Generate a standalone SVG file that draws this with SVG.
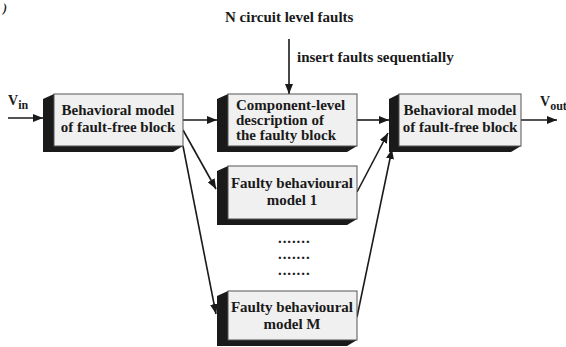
<svg xmlns="http://www.w3.org/2000/svg" width="566" height="347" viewBox="0 0 566 347">
<defs>
<style>
.t{font-family:"Liberation Serif","Times New Roman",serif;font-weight:bold;font-size:15px;fill:#1a1a1a}
.c{text-anchor:middle}
.face{fill:#f0f0f0;stroke:#555;stroke-width:1}
.side{fill:#1a1a1a}
.ln{stroke:#1a1a1a;stroke-width:1.6;fill:none}
</style>
<marker id="ah" viewBox="0 0 10 8" refX="10" refY="4" markerWidth="10" markerHeight="8" markerUnits="userSpaceOnUse" orient="auto">
<path d="M0,0 L10,4 L0,8 Z" fill="#1a1a1a"/>
</marker>
</defs>
<rect width="566" height="347" fill="#fff"/>
<text class="t" x="3" y="12" style="font-size:12px;font-style:italic">)</text>

<g id="connectors">
<line class="ln" x1="8" y1="118" x2="43" y2="118" marker-end="url(#ah)"/>
<line class="ln" x1="183" y1="120" x2="217" y2="120" marker-end="url(#ah)"/>
<line class="ln" x1="357" y1="120" x2="389" y2="120" marker-end="url(#ah)"/>
<line class="ln" x1="521" y1="120" x2="557" y2="120" marker-end="url(#ah)"/>
<line class="ln" x1="289" y1="39" x2="289" y2="94" marker-end="url(#ah)"/>
<line class="ln" x1="183" y1="130" x2="216" y2="189" marker-end="url(#ah)"/>
<line class="ln" x1="183" y1="146" x2="216" y2="314" marker-end="url(#ah)"/>
<line class="ln" x1="357" y1="192" x2="388" y2="133" marker-end="url(#ah)"/>
<line class="ln" x1="357" y1="317" x2="392" y2="149" marker-end="url(#ah)"/>
</g>

<g id="labels">
<text class="t" x="225" y="22">N circuit level faults</text>
<text class="t" x="297" y="62">insert faults sequentially</text>
<text class="t" x="8" y="105" style="font-size:14px">V<tspan dy="4" style="font-size:12px">in</tspan></text>
<text class="t" x="540" y="106" style="font-size:14px">V<tspan dy="4" style="font-size:12px">out</tspan></text>
<text class="t" x="278" y="243" style="letter-spacing:0.9px">.......</text>
<text class="t" x="278" y="259" style="letter-spacing:0.9px">.......</text>
<text class="t" x="278" y="275" style="letter-spacing:0.9px">.......</text>
</g>

<g id="box1">
<polygon class="side" points="54,94 43,99 43,152 173,152 183,146"/>
<rect class="face" x="54" y="94" width="129" height="52"/>
<text class="t c" x="118" y="115">Behavioral model</text>
<text class="t c" x="118" y="132">of fault-free block</text>
</g>

<g id="box2">
<polygon class="side" points="228,94 217,99 217,152 347,152 357,146"/>
<rect class="face" x="228" y="94" width="129" height="52"/>
<text class="t" x="236" y="110">Component-level</text>
<text class="t" x="236" y="125">description of</text>
<text class="t" x="236" y="140">the faulty block</text>
</g>

<g id="box3">
<polygon class="side" points="399,94 389,99 389,152 511,152 521,146"/>
<rect class="face" x="399" y="94" width="122" height="52"/>
<text class="t c" x="460" y="115">Behavioral model</text>
<text class="t c" x="460" y="132">of fault-free block</text>
</g>

<g id="box4">
<polygon class="side" points="228,166 217,171 217,225 347,225 357,219"/>
<rect class="face" x="228" y="166" width="129" height="53"/>
<text class="t c" x="292" y="188">Faulty behavioural</text>
<text class="t c" x="292" y="205">model 1</text>
</g>

<g id="box5">
<polygon class="side" points="228,291 217,296 217,346 347,346 357,340"/>
<rect class="face" x="228" y="291" width="129" height="49"/>
<text class="t c" x="292" y="312">Faulty behavioural</text>
<text class="t c" x="292" y="329">model M</text>
</g>
</svg>
